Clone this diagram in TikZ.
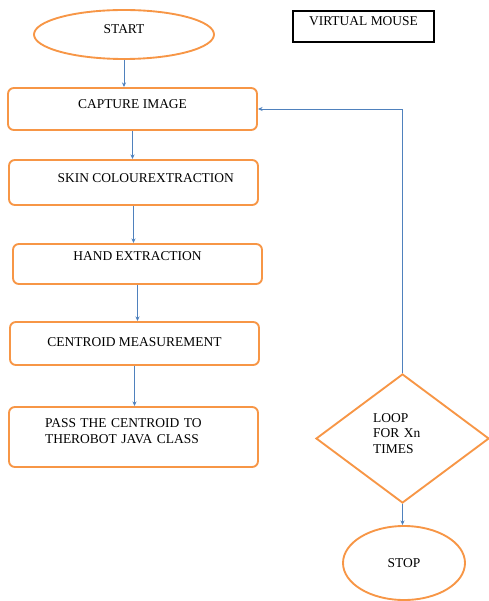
\documentclass[tikz,border=0pt]{standalone}
\usepackage{fontspec}
\setmainfont{Liberation Serif}
\usepackage{xcolor}
\usepackage{tikz}
\usetikzlibrary{shapes.geometric, arrows.meta}
\definecolor{floworange}{HTML}{F79646}
\definecolor{flowblue}{HTML}{4F81BD}

\begin{document}
\begin{tikzpicture}[x=0.03cm, y=-0.03cm,
    every node/.style={font=\fontsize{11.5}{13}\selectfont, inner sep=0pt},
    procbox/.style={draw=floworange, line width=1.6pt, rounded corners=5pt, minimum width=7.47cm},
    termbox/.style={ellipse, draw=floworange, line width=1.6pt},
    flowline/.style={draw=flowblue, line width=0.8pt, -{Stealth[length=4pt, width=3.5pt]}}]
\useasboundingbox (0,0) rectangle (489,601);

\node[termbox, minimum width=5.4cm, minimum height=1.47cm, text depth=9pt] (start) at (124,34.5) {START};
\node[draw, line width=1.5pt, minimum width=4.23cm, minimum height=0.93cm, text depth=9pt] (title) at (363.5,26.5) {VIRTUAL MOUSE};

\node[procbox, minimum height=1.26cm, text depth=8.5pt] (capture) at (132.5,109) {CAPTURE IMAGE};
\node[procbox, minimum height=1.35cm, text depth=7.7pt] (skin) at (133.5,182.5) {\hspace*{21pt}SKIN COLOUREXTRACTION};
\node[procbox, minimum height=1.2cm, text depth=13.7pt] (hand) at (137.5,264) {HAND EXTRACTION};
\node[procbox, minimum height=1.29cm, text depth=2.6pt] (centroid) at (134.5,343.5) {CENTROID MEASUREMENT};
\node[procbox, minimum height=1.8cm, text depth=23pt, text width=151pt, align=left] (pass) at (133.5,437) {PASS THE CENTROID TO\\THEROBOT JAVA CLASS};

\node[diamond, draw=floworange, line width=1.6pt, minimum width=5.19cm, minimum height=3.87cm, text width=50pt, align=left, text depth=34.6pt] (loop) at (402.5,438.5) {LOOP\\FOR Xn\\TIMES};
\node[termbox, minimum width=3.66cm, minimum height=2.22cm] (stop) at (404,563) {STOP};

% connectors
\draw[flowline] (start.south) -- (start.south |- capture.north);
\draw[flowline] (capture.south) -- (capture.south |- skin.north);
\draw[flowline] (skin.south) -- (skin.south |- hand.north);
\draw[flowline] (hand.south) -- (hand.south |- centroid.north);
\draw[flowline] (centroid.south) -- (centroid.south |- pass.north);
\draw[flowline] (loop.north) |- (capture.east);
\draw[flowline] (loop.south) -- (loop.south |- stop.north);
\end{tikzpicture}
\end{document}
